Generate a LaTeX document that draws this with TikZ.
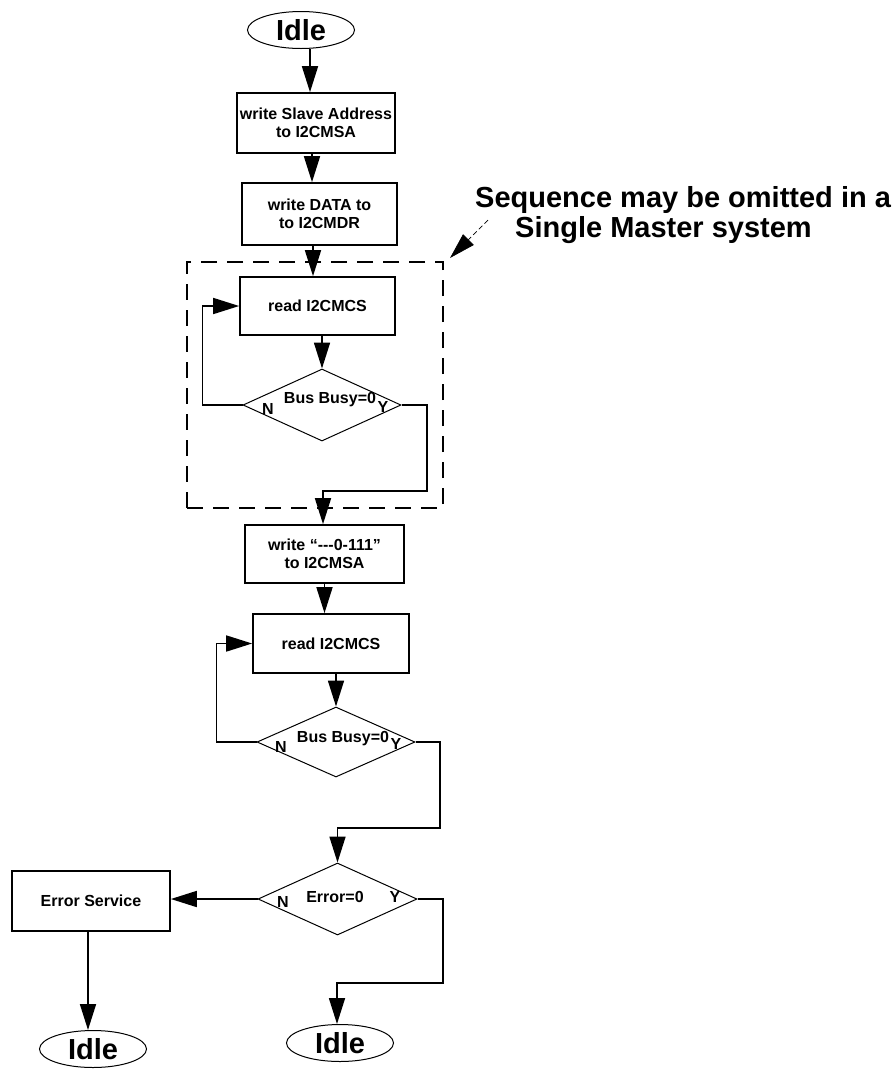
\documentclass[tikz,border=0pt]{standalone}
\usepackage{fontspec}
\newfontfamily\lsans{Liberation Sans}
\usetikzlibrary{shapes.geometric,arrows.meta}
\begin{document}
\begin{tikzpicture}[x=1pt,y=-1pt,
  txt/.style={font={\lsans\bfseries\fontsize{16}{18.5}\selectfont}},
  box/.style={draw, line width=1.7pt, align=center, inner sep=0pt, txt},
  term/.style={draw, ellipse, line width=1pt, inner sep=0pt, minimum width=107pt, minimum height=37pt,
    font={\lsans\bfseries\fontsize{29}{32}\selectfont}},
  dec/.style={draw, diamond, line width=1pt, inner sep=0pt},
  arr/.style={line width=1.7pt, -{Triangle[length=26pt,width=16pt]}},
  lab/.style={inner sep=0pt, txt}]
\useasboundingbox (0,0) rectangle (896,1072);

% terminals
\node[term] (idle1) at (301,30) {Idle};
\node[term] (idle2) at (93,1049) {Idle};
\node[term] (idle3) at (340,1043) {Idle};

% boxes
\node[box, minimum width=158pt, minimum height=60pt] (b1) at (316,123) {write Slave Address\\to I2CMSA};
\node[box, minimum width=155pt, minimum height=62pt] (b2) at (319.5,214) {write DATA to\\to I2CMDR};
\node[box, minimum width=155pt, minimum height=58pt] (b3) at (317.5,306) {read I2CMCS};
\node[box, minimum width=159pt, minimum height=58pt] (b4) at (324.5,554) {write “-\kern0pt-\kern0pt-0-111”\\to I2CMSA};
\node[box, minimum width=156pt, minimum height=59pt] (b5) at (331,643.5) {read I2CMCS};
\node[box, minimum width=158pt, minimum height=60pt] (err) at (91,901) {Error Service};

% decisions
\node[dec, minimum width=158pt, minimum height=72pt] (d1) at (322,405) {};
\node[dec, minimum width=158pt, minimum height=70pt] (d2) at (336,742) {};
\node[dec, minimum width=159pt, minimum height=72pt] (d3) at (337.5,899) {};

\node[lab] (t1) at (330,400) {Bus Busy=0};
\node[lab] (n1) at (268,409) {N};
\node[lab] (y1) at (383,407) {Y};
\node[lab] (t2) at (343,739) {Bus Busy=0};
\node[lab] (n2) at (281,747) {N};
\node[lab] (y2) at (396,744) {Y};
\node[lab] (t3) at (335,897) {Error=0};
\node[lab] (n3) at (283,902) {N};
\node[lab] (y3) at (395,897) {Y};

% dashed group
\node[draw, line width=1.3pt, dash pattern=on 16pt off 10pt, minimum width=256pt, minimum height=246pt, inner sep=0pt] (grp) at (315,385) {};

% annotation
\node[anchor=north west, inner sep=0pt, align=left, font={\lsans\bfseries\fontsize{29}{30}\selectfont}] (note) at (475,186)
  {Sequence may be omitted in a\\\hspace*{40pt}Single Master system};
\coordinate (p1) at (488,220);
\draw[line width=0.7pt, dash pattern=on 5pt off 3pt, -{Triangle[length=26pt,width=15pt]}] (p1) -- (450,258);

% connectors
\coordinate (c1) at (427,491);
\coordinate (c2) at (440,828);
\coordinate (c3) at (443,983);

\draw[arr] ([xshift=9pt]idle1.south) -- ([xshift=9pt]idle1.south |- b1.north);
\draw[arr] ([xshift=-4pt]b1.south) -- ([xshift=-4pt]b1.south |- b2.north);
\draw[arr] ([xshift=-6.5pt]b2.south) -- ([xshift=-6.5pt]b2.south |- b3.north);
\draw[arr] (b3.south -| d1.north) -- (d1.north);
\draw[arr] (d1.west) -- ++(-40,0) |- (b3.west);
\draw[arr] (d1.east) -| (c1) -| ([xshift=-1.5pt]b4.north);
\draw[arr] (b4.south) -- (b4.south |- b5.north);
\draw[arr] (b5.south -| d2.north) -- (d2.north);
\draw[arr] (d2.west) -- ++(-40,0) |- (b5.west);
\draw[arr] (d2.east) -| (c2) -| (d3.north);
\draw[arr] (d3.west) -- (d3.west -| err.east);
\draw[arr] ([xshift=-3pt]err.south) -- ([xshift=-3pt]err.south |- idle2.north);
\draw[arr] (d3.east) -| (c3) -| ([xshift=-3pt]idle3.north);
\end{tikzpicture}
\end{document}
